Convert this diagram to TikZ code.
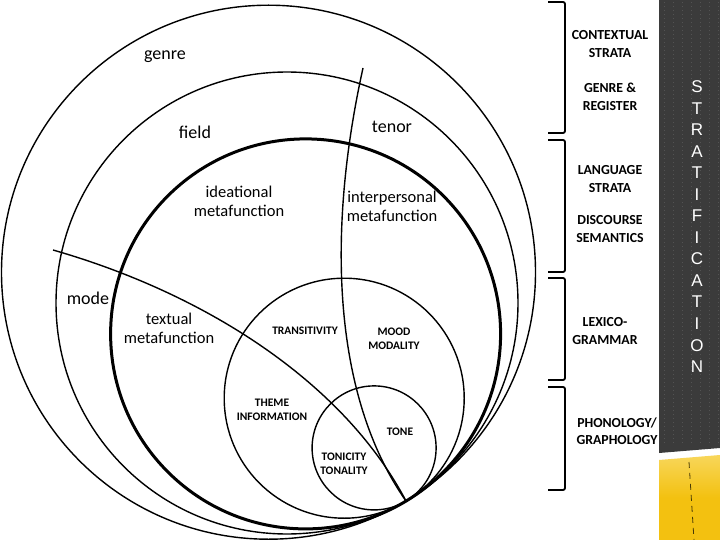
\documentclass[tikz,border=0pt]{standalone}
\usepackage{fontspec}
\setmainfont{Carlito}
\newfontfamily\arialfont{Liberation Sans}
\begin{document}
\begin{tikzpicture}[x=1pt,y=-1pt,
  ring/.style={line width=1.4pt},
  thickring/.style={line width=3pt},
  divider/.style={line width=1.4pt},
  outerlbl/.style={font=\fontsize{18}{19}\selectfont, inner sep=0pt, align=center},
  lbl/.style={font=\fontsize{16.5}{19}\selectfont, inner sep=0pt, align=center},
  caps/.style={font=\bfseries\fontsize{11.5}{14}\selectfont, inner sep=0pt, align=center},
  strat/.style={font=\bfseries\fontsize{13.8}{17.5}\selectfont, inner sep=0pt, align=center},
  brk/.style={line width=1.8pt, rounded corners=2pt},
  letters/.style={text=white, font=\arialfont\fontsize{17}{21.54}\selectfont, inner sep=0pt, align=center}
]
\useasboundingbox (0,0) rectangle (720,540);
\fill[white] (0,0) rectangle (720,540);

% right decorative bar
\definecolor{barcol}{HTML}{3B3B3B}
\definecolor{yel}{HTML}{F3C110}
\definecolor{yellight}{HTML}{F8D65A}
\fill[barcol] (659,0) -- (720,0) -- (720,448) -- (659,453) -- cycle;
\foreach \xx in {664,673,...,718} {
  \draw[gray!35!barcol, line width=0.5pt, dash pattern=on 1pt off 3pt] (\xx,2) -- (\xx,446);
}
\shade[top color=yellight, bottom color=yel, middle color=yel] (659,460) -- (720,455) -- (720,540) -- (659,540) -- cycle;
\draw[black!70!yel, line width=0.8pt, dash pattern=on 6pt off 5pt] (689,462) -- (694,540);
\node[letters, anchor=north] (stratif) at (697,80.5) {S\\T\\R\\A\\T\\I\\F\\I\\C\\A\\T\\I\\O\\N};

% circles, all tangent at T
\coordinate (T) at (406,501);
\coordinate (c1) at (268.5,272.2);
\coordinate (c2) at (287.0,303.0);
\coordinate (c3) at (305.6,333.9);
\coordinate (c4) at (344.2,398.2);
\coordinate (c5) at (374.1,447.9);
\draw[ring] (c1) circle (267);
\draw[ring] (c2) circle (231);
\draw[thickring] (c3) circle (195);
\draw[ring] (c4) circle (120);
\draw[ring] (c5) circle (62);

% dividing curves
\coordinate (tenortop) at (363,68);
\coordinate (modestart) at (53,250);
\draw[divider] (tenortop) .. controls (325,240) and (335,400) .. (T);
\draw[divider] (modestart) .. controls (210,295) and (345,385) .. (T);

% circle labels
\node[outerlbl] (genre) at (165,57) {genre};
\node[outerlbl] (field) at (195,132) {field};
\node[outerlbl] (tenor) at (392,127) {tenor};
\node[outerlbl] (mode) at (88,298) {mode};
\node[lbl] (ideational) at (239,201) {ideational\\metafunction};
\node[lbl] (interpersonal) at (392,206) {interpersonal\\metafunction};
\node[lbl] (textual) at (169,328) {textual\\metafunction};
\node[caps] (transitivity) at (305,331) {TRANSITIVITY};
\node[caps] (mood) at (394,339) {MOOD\\MODALITY};
\node[caps] (theme) at (272,410) {THEME\\INFORMATION};
\node[caps] (tone) at (400,432) {TONE};
\node[caps] (tonicity) at (344,464) {TONICITY\\TONALITY};

% brackets
\draw[brk] (548,2) -- (565,2) -- (565,133) -- (548,133);
\draw[brk] (548,140) -- (565,140) -- (565,272) -- (548,272);
\draw[brk] (548,278) -- (565,278) -- (565,380) -- (548,380);
\draw[brk] (548,387) -- (565,387) -- (565,490) -- (548,490);

% strata labels
\node[strat] (contextual) at (610,44) {CONTEXTUAL\\STRATA};
\node[strat] (genrereg) at (610,97) {GENRE \&\\REGISTER};
\node[strat] (language) at (610,179) {LANGUAGE\\STRATA};
\node[strat] (discourse) at (610,229) {DISCOURSE\\SEMANTICS};
\node[strat] (lexico) at (605,331) {LEXICO-\\GRAMMAR};
\node[strat] (phono) at (617,431) {PHONOLOGY/\\GRAPHOLOGY};
\end{tikzpicture}
\end{document}
